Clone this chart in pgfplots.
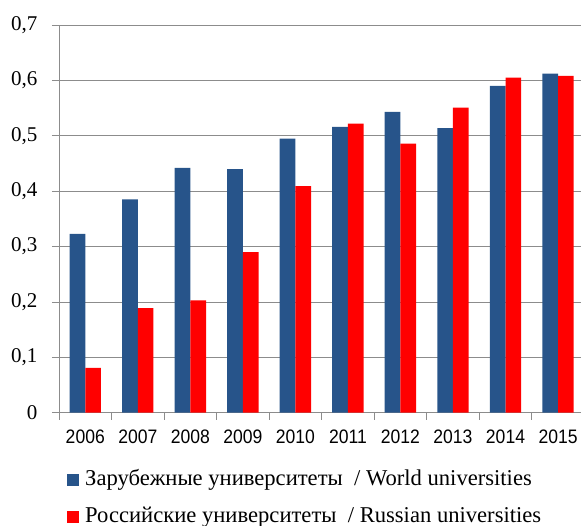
\documentclass[border=0pt]{standalone}
\usepackage{pgfplots}
\pgfplotsset{compat=1.18}
\usepackage{pgfplotstable}
\usepackage{fontspec}
\setmainfont{Liberation Serif}
\newfontfamily\arialf[FakeStretch=0.9]{Liberation Sans}
\definecolor{wblue}{HTML}{27548A}
\definecolor{gridc}{HTML}{8C8C8C}
\pgfplotstableread{
x w r
0 0.323 0.081
1 0.385 0.189
2 0.442 0.203
3 0.440 0.290
4 0.495 0.409
5 0.516 0.522
6 0.543 0.486
7 0.514 0.551
8 0.590 0.605
9 0.612 0.608
}\datatab
\begin{document}
\begin{tikzpicture}
\begin{axis}[
  at={(59pt,112.3pt)}, anchor=south west,
  scale only axis, width=525.3pt, height=387.7pt,
  xmin=-0.5, xmax=9.5, ymin=0, ymax=0.7,
  axis x line*=bottom, axis y line*=left,
  axis line style={gridc, line width=0.8pt, -},
  ytick={0,0.1,0.2,0.3,0.4,0.5,0.6,0.7},
  ymajorgrids, grid style={gridc, line width=0.8pt},
  tick style={gridc, line width=0.8pt},
  tick align=outside, major tick length=7pt,
  xtick={-0.5,0.5,1.5,2.5,3.5,4.5,5.5,6.5,7.5,8.5,9.5},
  xticklabels={2006,2007,2008,2009,2010,2011,2012,2013,2014,2015},
  x tick label as interval,
  yticklabel style={font=\fontsize{21}{21}\selectfont, anchor=east, inner sep=0pt, xshift=-14.5pt},
  xticklabel style={font=\arialf\fontsize{19.5}{19.5}\selectfont, anchor=north, inner sep=0pt, yshift=-10pt},
  ybar=0pt, bar width=15.7pt,
  legend style={at={(axis description cs:0,0)}, anchor=north west,
    xshift=8pt, yshift=-56.3pt, draw=none, fill=none, inner sep=0pt,
    row sep=16pt, column sep=6pt,
    font=\fontsize{22.6}{22.6}\selectfont,
    nodes={inner sep=0pt, text height=16pt, text depth=5pt},
    cells={anchor=west}},
  /pgf/number format/.cd, use comma, fixed, precision=1, assume math mode=true,
]
\addplot[fill=wblue, draw=none,
  legend image code/.code={\fill[wblue] (0pt,-6pt) rectangle (12pt,6pt);}]
  table[x=x,y=w]{\datatab};
\addplot[fill=red, draw=none,
  legend image code/.code={\fill[red] (0pt,-6pt) rectangle (12pt,6pt);}]
  table[x=x,y=r]{\datatab};
\legend{Зарубежные университеты\ \ / World universities, Российские университеты\ \ / Russian universities}
\end{axis}
\pgfresetboundingbox
\path (0,0) rectangle (581pt,525pt);
\end{tikzpicture}
\end{document}
